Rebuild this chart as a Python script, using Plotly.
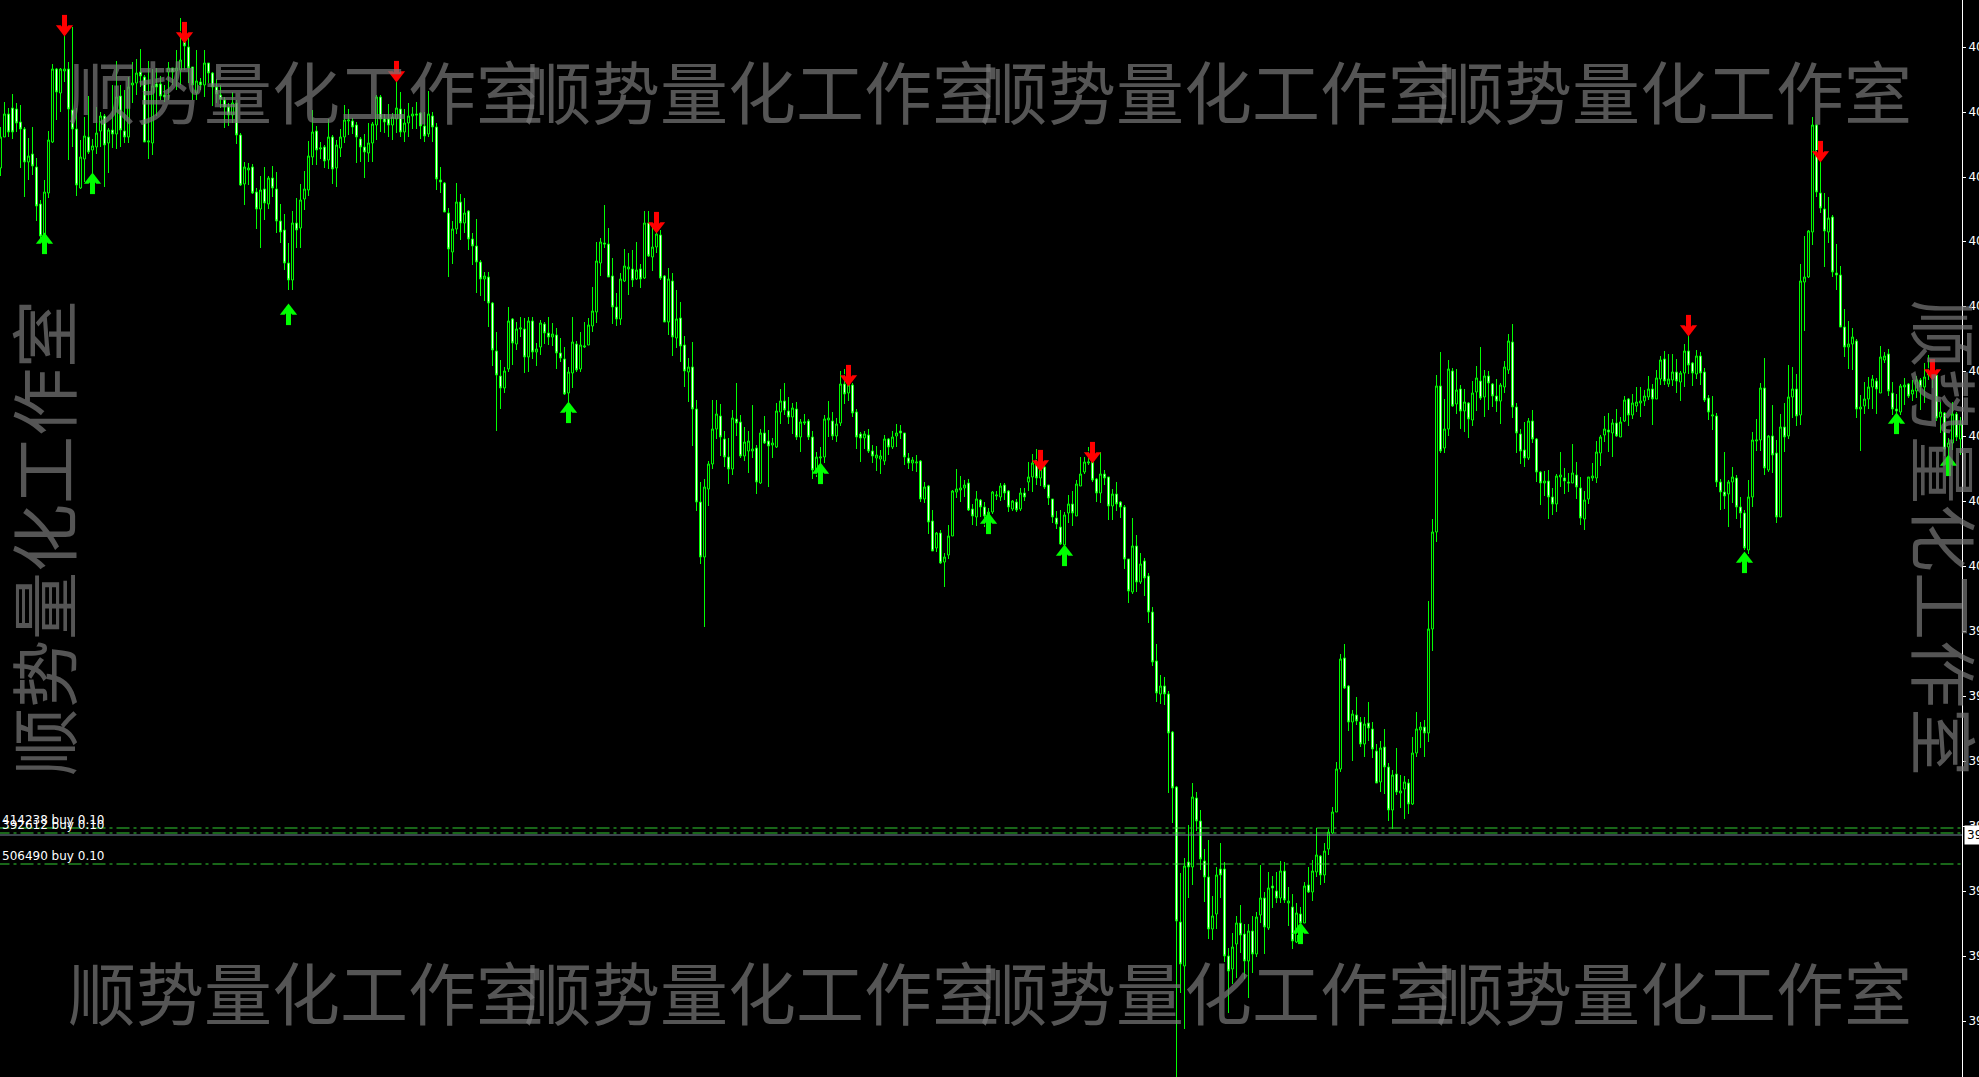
import plotly.graph_objects as go

highs = [
4047.3,4049.8,4049.2,4050.6,4049.7,4049.5,4047.3,4046.2,4047.3,4044.2,
4040.0,4042.0,4046.9,4053.6,4053.2,4053.2,4056.5,4053.8,4057.3,4049.2,
4046.0,4048.3,4050.4,4046.1,4049.3,4048.8,4048.6,4047.2,4051.5,4053.9,
4051.5,4051.0,4052.3,4053.8,4054.1,4055.1,4052.5,4053.9,4053.1,4053.2,
4052.4,4051.5,4053.8,4053.2,4055.0,4058.2,4055.9,4056.2,4053.3,4055.0,
4052.2,4055.0,4053.7,4052.8,4052.1,4051.5,4050.3,4049.7,4050.8,4050.0,
4046.7,4043.8,4043.7,4043.6,4041.2,4042.4,4043.3,4042.4,4043.4,4042.8,
4039.6,4038.6,4035.7,4038.9,4040.2,4041.6,4042.9,4045.9,4049.0,4047.4,
4045.8,4045.5,4048.1,4046.5,4046.0,4047.1,4049.5,4049.1,4048.2,4047.8,
4046.3,4046.6,4047.7,4047.8,4050.5,4050.5,4048.6,4049.6,4048.7,4051.8,
4050.8,4049.1,4049.7,4049.3,4049.8,4048.8,4048.8,4050.9,4048.8,4047.7,
4043.3,4041.8,4039.2,4037.9,4041.7,4040.6,4040.2,4039.0,4036.7,4038.1,
4034.0,4032.8,4032.8,4029.8,4026.8,4024.0,4023.3,4029.3,4028.2,4027.8,
4028.3,4028.2,4028.3,4028.3,4025.7,4028.0,4027.8,4028.3,4027.7,4027.2,
4026.2,4025.3,4023.3,4028.3,4025.9,4026.8,4027.8,4028.2,4031.3,4035.8,
4036.2,4039.5,4037.2,4034.2,4030.7,4032.7,4035.1,4034.7,4035.0,4035.8,
4033.6,4038.9,4038.9,4037.3,4037.5,4037.0,4032.5,4033.2,4032.7,4031.0,
4029.8,4026.4,4024.2,4025.8,4020.0,4011.8,4012.1,4013.9,4020.0,4020.0,
4019.6,4016.9,4016.2,4019.0,4021.7,4018.5,4017.3,4016.9,4019.5,4015.5,
4017.1,4018.4,4017.0,4016.2,4019.7,4021.1,4021.7,4020.3,4019.7,4019.8,
4018.1,4018.6,4018.1,4016.9,4014.8,4015.3,4018.5,4019.9,4018.8,4018.2,
4022.9,4023.1,4023.0,4021.7,4019.1,4016.8,4016.9,4017.1,4015.5,4015.4,
4015.0,4016.5,4016.2,4016.9,4017.6,4017.5,4016.7,4014.7,4014.3,4014.5,
4014.0,4011.8,4011.5,4009.0,4006.8,4007.0,4004.7,4007.5,4011.0,4013.1,
4012.4,4012.0,4012.1,4009.6,4010.9,4010.1,4009.8,4009.2,4010.9,4010.9,
4011.7,4011.7,4011.0,4010.0,4010.1,4011.2,4011.2,4013.8,4014.6,4015.1,
4014.7,4013.8,4011.5,4010.1,4008.9,4009.0,4008.8,4010.5,4010.9,4012.0,
4014.3,4014.3,4015.3,4014.8,4012.2,4014.8,4013.0,4012.3,4011.1,4011.8,
4009.9,4009.5,4004.1,4008.2,4006.5,4004.7,4004.2,4002.7,3999.3,3995.6,
3992.5,3992.3,3990.9,3986.9,3981.4,3972.7,3974.2,3977.5,3981.7,3980.8,
3979.0,3975.1,3976.0,3970.4,3973.3,3975.7,3973.8,3965.2,3966.7,3968.4,
3969.5,3967.6,3967.6,3968.4,3968.8,3973.5,3970.8,3972.8,3972.4,3972.8,
3973.9,3973.8,3971.3,3970.6,3969.7,3969.3,3971.8,3973.3,3974.0,3977.2,
3974.5,3975.7,3977.1,3979.3,3983.8,3994.6,3995.6,3991.5,3989.0,3990.3,
3988.3,3988.3,3989.8,3987.8,3985.6,3985.9,3987.1,3983.7,3983.0,3985.2,
3982.5,3982.4,3982.1,3986.3,3988.8,3987.8,3988.0,3999.9,4008.1,4022.5,
4024.8,4020.1,4024.0,4023.2,4023.1,4021.5,4021.1,4019.8,4021.9,4023.4,
4025.3,4023.0,4022.9,4021.7,4022.1,4021.7,4023.9,4026.6,4027.6,4019.7,
4017.1,4017.8,4018.2,4019.0,4016.2,4012.9,4012.9,4013.0,4011.2,4012.6,
4014.8,4013.2,4012.7,4015.6,4013.8,4012.3,4010.9,4012.3,4013.7,4015.9,
4016.5,4018.4,4018.7,4018.1,4019.1,4018.3,4020.4,4020.2,4020.6,4021.3,
4021.3,4021.0,4022.4,4021.6,4023.0,4024.4,4024.9,4024.6,4024.6,4024.1,
4022.9,4025.6,4026.4,4023.8,4025.0,4024.8,4023.2,4020.5,4020.4,4018.7,
4012.1,4014.8,4012.0,4013.3,4012.5,4010.3,4009.0,4012.0,4016.8,4018.1,
4021.7,4024.2,4016.5,4019.5,4016.0,4018.6,4019.7,4023.5,4023.3,4022.6,
4033.6,4036.4,4037.0,4048.3,4047.6,4044.0,4040.7,4040.3,4038.5,4035.6,
4033.4,4029.1,4027.9,4027.2,4026.1,4020.5,4021.8,4022.3,4022.5,4022.2,
4025.4,4024.8,4025.1,4021.8,4020.6,4021.6,4022.2,4021.7,4022.0,4022.4,
4022.2,4023.7,4024.5,4023.7,4022.7,4019.8,4018.8,4016.2,4019.8,4018.8,4018.3]

lows = [
4042.4,4046.3,4046.3,4046.1,4046.8,4043.2,4040.3,4042.0,4042.5,4037.9,
4036.0,4036.0,4040.2,4045.7,4048.0,4048.8,4051.8,4044.0,4045.3,4040.4,
4041.1,4041.8,4044.6,4042.7,4044.6,4045.3,4041.3,4042.7,4045.2,4045.1,
4045.3,4045.7,4045.7,4049.7,4050.5,4051.3,4045.8,4044.1,4044.5,4048.4,
4050.0,4049.8,4050.0,4051.5,4051.0,4051.5,4053.0,4051.7,4050.0,4050.0,
4051.0,4050.3,4051.7,4049.4,4049.7,4049.2,4047.2,4047.4,4047.7,4045.6,
4041.4,4039.5,4041.5,4040.6,4037.1,4035.2,4038.0,4039.1,4040.3,4036.7,
4035.7,4033.0,4031.0,4031.0,4035.2,4035.2,4039.0,4040.4,4043.5,4043.5,
4044.1,4043.2,4043.1,4041.6,4041.3,4044.3,4045.7,4046.5,4046.6,4043.7,
4043.8,4042.2,4043.8,4043.8,4046.0,4046.8,4046.7,4046.3,4046.0,4046.7,
4046.3,4045.8,4046.3,4047.1,4047.1,4046.1,4045.8,4046.3,4045.8,4041.0,
4040.7,4038.8,4032.3,4033.6,4036.6,4036.0,4036.7,4035.0,4033.5,4030.7,
4030.4,4029.9,4027.3,4023.4,4016.9,4019.1,4020.7,4022.8,4023.5,4025.0,
4026.3,4022.7,4022.8,4024.1,4023.4,4024.5,4025.6,4025.5,4025.4,4023.1,
4023.8,4020.5,4019.8,4021.2,4022.8,4022.8,4025.2,4025.5,4026.8,4027.7,
4032.4,4035.2,4032.3,4027.6,4027.4,4027.5,4031.8,4030.5,4031.3,4032.0,
4031.2,4032.1,4034.3,4032.9,4034.7,4032.0,4027.8,4026.5,4024.4,4025.2,
4023.8,4021.3,4019.8,4015.4,4008.9,4003.6,3997.3,4009.4,4013.1,4016.1,
4014.4,4013.3,4011.6,4012.5,4016.4,4014.2,4013.9,4012.7,4014.2,4010.6,
4011.6,4015.6,4011.3,4014.2,4015.2,4017.6,4018.5,4017.6,4016.6,4016.0,
4014.8,4017.5,4016.0,4012.1,4012.3,4013.7,4013.7,4016.3,4016.0,4015.8,
4017.4,4019.6,4019.9,4018.3,4015.1,4013.8,4015.1,4014.7,4013.7,4012.9,
4012.6,4013.5,4014.5,4015.1,4015.3,4016.1,4013.5,4013.1,4012.9,4012.8,
4009.8,4009.7,4006.6,4004.9,4004.8,4003.6,4001.3,4004.1,4006.4,4010.2,
4009.8,4010.3,4008.9,4007.5,4007.4,4008.3,4007.3,4008.0,4008.6,4010.0,
4009.9,4010.0,4008.8,4008.9,4008.8,4008.9,4009.9,4010.9,4010.8,4011.5,
4011.4,4011.1,4009.5,4007.7,4007.1,4005.5,4005.4,4007.7,4007.4,4008.4,
4011.4,4012.6,4013.5,4011.8,4009.8,4009.7,4011.5,4008.0,4008.0,4008.9,
4008.2,4003.1,3999.7,4000.6,4000.8,4001.6,4000.4,3997.7,3993.4,3989.8,
3989.6,3989.5,3980.7,3977.7,3951.0,3960.7,3957.1,3970.2,3971.5,3976.9,
3973.0,3969.8,3966.1,3966.0,3967.1,3970.2,3963.8,3958.7,3961.6,3962.2,
3964.7,3962.1,3960.2,3962.7,3964.3,3967.7,3964.6,3967.0,3969.2,3969.7,
3969.7,3969.7,3967.4,3965.1,3965.7,3967.7,3967.7,3970.7,3969.9,3972.3,
3971.5,3971.7,3974.5,3976.6,3978.8,3982.8,3991.1,3986.9,3983.9,3987.5,
3985.3,3984.3,3985.9,3984.2,3981.7,3980.8,3980.6,3977.9,3977.1,3980.5,
3979.2,3978.1,3978.6,3979.5,3984.3,3985.2,3984.3,3985.8,3994.9,4005.8,
4014.7,4014.7,4016.4,4019.3,4018.6,4017.1,4016.8,4016.2,4017.4,4018.9,
4020.0,4018.3,4019.0,4019.3,4018.8,4017.6,4020.7,4022.6,4018.2,4014.7,
4013.6,4013.3,4014.0,4015.7,4011.8,4009.5,4010.4,4008.1,4008.5,4008.8,
4011.3,4010.6,4010.8,4011.7,4010.1,4007.5,4007.0,4009.6,4011.9,4011.7,
4013.4,4015.8,4014.8,4014.3,4016.3,4016.3,4017.8,4017.4,4018.1,4018.8,
4018.3,4019.4,4020.0,4017.5,4020.1,4021.5,4021.5,4021.3,4021.4,4020.7,
4019.9,4021.3,4022.6,4021.4,4022.1,4021.5,4019.8,4018.0,4017.0,4011.3,
4009.0,4009.1,4007.3,4009.7,4008.1,4007.2,4005.0,4004.6,4009.3,4014.9,
4014.9,4012.5,4012.8,4012.7,4007.7,4008.3,4014.8,4016.1,4018.2,4017.4,
4017.5,4026.9,4032.2,4035.5,4040.3,4038.7,4033.3,4035.7,4032.3,4031.0,
4027.3,4024.3,4023.1,4023.0,4018.2,4014.9,4018.6,4019.1,4019.1,4018.6,
4020.7,4023.7,4020.4,4018.5,4018.5,4018.5,4019.5,4020.2,4019.9,4020.2,
4019.0,4019.7,4022.0,4021.2,4017.9,4016.7,4014.4,4014.2,4015.0,4015.9,4014.5]

opens = [
4043.2,4046.3,4048.6,4049.2,4049.1,4047.8,4047.1,4043.8,4044.6,4043.3,
4039.6,4036.5,4040.7,4045.8,4053.1,4050.7,4052.9,4053.1,4049.0,4047.1,
4041.2,4044.1,4046.3,4045.0,4045.3,4046.9,4048.4,4045.7,4047.0,4046.6,
4050.4,4046.9,4046.3,4051.5,4051.7,4052.8,4052.3,4045.8,4045.7,4051.6,
4051.6,4050.5,4052.8,4053.2,4052.9,4053.0,4055.8,4055.3,4053.3,4050.7,
4051.8,4051.5,4053.7,4052.7,4051.3,4050.5,4050.0,4049.3,4048.5,4049.7,
4046.5,4041.6,4043.0,4043.3,4040.8,4039.1,4041.1,4039.6,4042.2,4041.1,
4037.9,4037.0,4033.7,4032.0,4037.7,4037.2,4040.1,4041.0,4044.3,4046.9,
4045.1,4045.3,4044.0,4046.3,4043.2,4045.2,4046.3,4047.9,4047.9,4047.5,
4046.1,4045.3,4044.7,4045.7,4047.5,4050.3,4048.1,4048.1,4047.5,4048.1,
4049.1,4046.8,4047.7,4048.4,4048.6,4048.7,4047.4,4046.6,4048.4,4047.3,
4042.0,4041.7,4038.7,4034.8,4037.1,4039.8,4037.7,4038.9,4036.1,4035.4,
4033.8,4032.1,4032.3,4029.7,4024.9,4022.4,4021.2,4023.1,4028.1,4025.6,
4027.1,4027.1,4024.3,4027.9,4024.8,4025.3,4027.6,4026.7,4026.3,4026.5,
4024.7,4024.1,4020.7,4022.7,4025.6,4023.1,4025.3,4025.5,4027.4,4028.8,
4033.7,4035.7,4035.6,4032.4,4029.3,4028.1,4031.9,4033.1,4033.1,4032.1,
4033.1,4032.2,4037.7,4034.3,4035.3,4036.5,4032.4,4027.8,4031.9,4026.2,
4028.2,4025.5,4022.8,4023.3,4019.1,4009.8,4004.3,4011.1,4013.6,4017.1,
4018.4,4016.1,4014.3,4013.1,4018.1,4017.8,4014.4,4014.9,4014.9,4015.2,
4011.7,4016.7,4015.9,4015.5,4015.3,4018.8,4019.9,4018.9,4018.3,4019.1,
4016.3,4017.7,4017.9,4016.3,4012.7,4014.2,4014.3,4018.0,4017.9,4016.4,
4017.7,4021.6,4020.7,4021.5,4018.8,4016.6,4016.2,4016.5,4014.9,4014.2,
4014.1,4013.9,4016.1,4015.3,4016.4,4016.9,4016.7,4014.2,4013.7,4013.7,
4013.9,4010.1,4011.4,4007.9,4005.2,4006.7,4003.8,4004.5,4006.4,4010.8,
4011.0,4011.2,4011.7,4009.1,4008.3,4010.0,4009.3,4008.3,4008.8,4010.4,
4010.3,4011.5,4010.9,4009.1,4009.8,4009.1,4010.7,4011.8,4012.3,4014.0,
4012.2,4013.3,4011.5,4010.1,4008.2,4007.3,4005.5,4008.7,4009.6,4008.4,
4011.4,4012.8,4013.7,4013.8,4012.1,4010.7,4012.6,4012.3,4009.4,4010.6,
4009.8,4009.3,4004.1,4000.8,4005.4,4001.8,4003.9,4002.4,3998.8,3993.9,
3990.6,3991.4,3990.6,3986.8,3981.3,3967.8,3963.4,3973.8,3973.3,3980.2,
3977.9,3973.9,3972.3,3967.1,3968.6,3973.1,3973.1,3964.4,3963.1,3965.6,
3967.7,3966.6,3963.9,3966.9,3964.6,3968.5,3970.2,3967.2,3971.4,3970.9,
3970.2,3972.9,3969.7,3969.3,3965.8,3968.6,3967.7,3971.5,3970.8,3972.8,
3974.4,3972.5,3975.1,3976.7,3978.8,3983.1,3994.2,3991.4,3987.8,3988.5,
3987.8,3985.6,3987.7,3987.1,3984.9,3981.8,3985.3,3983.3,3979.0,3982.6,
3980.7,3981.1,3981.7,3979.6,3984.7,3987.0,3987.3,3986.7,3997.1,4006.8,
4021.4,4015.2,4017.1,4022.9,4019.6,4021.1,4018.9,4019.7,4018.0,4020.8,
4021.9,4020.3,4022.4,4021.6,4020.4,4019.9,4021.3,4023.0,4025.8,4019.3,
4016.6,4015.0,4014.2,4017.9,4016.1,4012.8,4011.7,4011.9,4010.3,4009.6,
4012.3,4012.2,4011.8,4011.7,4012.5,4011.2,4008.1,4010.1,4012.2,4012.2,
4014.7,4016.5,4017.0,4016.7,4017.7,4016.3,4017.9,4020.1,4018.5,4019.4,
4019.7,4019.9,4020.3,4021.1,4020.1,4022.1,4024.1,4021.6,4022.0,4022.8,
4021.8,4022.7,4024.9,4023.7,4022.6,4024.4,4022.8,4020.2,4018.4,4018.4,
4011.8,4010.8,4010.6,4011.8,4012.2,4009.3,4008.7,4005.0,4010.3,4015.9,
4016.0,4021.2,4013.0,4016.4,4014.7,4008.3,4017.3,4016.4,4020.3,4021.1,
4018.5,4031.8,4032.3,4036.8,4047.5,4040.7,4039.1,4036.8,4038.3,4032.7,
4032.5,4027.3,4025.3,4025.6,4025.9,4019.1,4019.4,4020.1,4021.3,4021.9,
4020.7,4024.0,4024.6,4020.7,4019.1,4018.8,4021.3,4021.6,4020.6,4020.9,
4022.0,4021.3,4022.5,4022.7,4022.5,4018.3,4018.7,4015.3,4015.7,4018.6,4016.1]

closes = [
4046.3,4048.6,4046.8,4046.8,4047.7,4047.1,4043.8,4044.4,4043.4,4039.4,
4036.4,4040.8,4046.0,4053.1,4050.8,4053.1,4053.1,4049.1,4047.1,4041.5,
4044.3,4046.4,4044.8,4045.4,4046.7,4048.4,4045.5,4047.0,4046.6,4050.3,
4047.0,4046.3,4051.3,4051.7,4052.7,4052.4,4045.8,4045.9,4051.4,4051.3,
4050.4,4050.3,4053.2,4052.8,4053.2,4054.0,4055.4,4053.2,4051.5,4051.9,
4051.5,4053.7,4052.7,4051.3,4050.6,4050.1,4049.3,4048.5,4049.7,4046.5,
4041.5,4043.3,4043.2,4040.7,4039.1,4041.0,4039.7,4042.2,4041.2,4037.9,
4036.8,4033.7,4032.0,4037.7,4037.0,4040.0,4041.1,4044.4,4046.8,4045.0,
4045.2,4043.9,4046.3,4043.1,4045.5,4046.3,4048.0,4048.0,4047.3,4046.3,
4045.3,4044.8,4045.7,4047.6,4050.3,4048.1,4047.8,4047.5,4048.3,4049.2,
4046.8,4047.7,4048.4,4048.6,4048.5,4047.4,4046.4,4048.6,4047.3,4042.1,
4041.8,4038.8,4035.1,4037.1,4039.8,4037.7,4038.7,4036.1,4035.4,4033.8,
4032.1,4032.4,4029.7,4025.0,4022.5,4021.2,4022.9,4027.9,4025.7,4027.1,
4027.2,4024.3,4027.9,4024.8,4025.1,4027.7,4026.7,4026.3,4026.6,4024.7,
4024.2,4020.6,4022.8,4025.8,4023.0,4025.5,4025.4,4027.5,4028.9,4033.9,
4035.8,4035.6,4032.3,4029.3,4028.1,4032.1,4033.4,4033.3,4032.0,4033.0,
4032.1,4037.7,4034.4,4035.3,4036.6,4032.2,4027.8,4032.1,4026.3,4028.1,
4025.4,4022.9,4023.3,4019.1,4009.8,4004.3,4011.3,4013.6,4017.1,4018.6,
4016.3,4014.3,4013.1,4018.2,4017.7,4014.4,4015.8,4015.9,4015.1,4011.8,
4016.7,4015.7,4015.4,4015.7,4018.9,4019.9,4019.0,4018.3,4019.2,4016.3,
4017.8,4017.8,4016.3,4013.0,4014.3,4014.3,4018.1,4018.2,4016.4,4017.6,
4021.6,4020.6,4021.5,4018.7,4016.3,4016.2,4016.6,4014.9,4014.4,4014.5,
4014.4,4016.1,4015.3,4016.3,4016.7,4016.7,4014.3,4013.7,4014.0,4013.8,
4010.1,4011.3,4007.8,4004.9,4006.7,4003.7,4004.3,4006.4,4010.9,4011.1,
4011.2,4011.5,4009.0,4008.4,4010.1,4009.3,4008.4,4008.8,4010.8,4010.5,
4011.4,4010.7,4009.3,4009.9,4009.0,4010.7,4010.3,4012.3,4013.7,4012.2,
4013.8,4011.3,4010.2,4008.3,4007.6,4005.6,4008.5,4009.6,4008.7,4011.6,
4012.6,4013.8,4013.8,4012.0,4010.7,4012.6,4012.2,4009.4,4010.6,4009.6,
4009.3,4004.1,4000.9,4005.4,4001.8,4003.6,4002.2,3998.8,3993.8,3990.7,
3991.4,3990.6,3986.7,3981.2,3967.9,3963.6,3973.4,3973.3,3980.3,3977.9,
3974.1,3972.3,3967.1,3968.4,3972.5,3972.5,3964.4,3962.9,3965.3,3967.7,
3966.5,3963.9,3966.9,3964.6,3968.3,3970.2,3967.3,3971.2,3971.2,3970.2,
3972.9,3970.0,3969.9,3965.9,3968.7,3967.7,3971.4,3970.8,3972.9,3974.5,
3972.5,3974.9,3976.8,3978.8,3983.1,3994.1,3991.2,3987.8,3988.6,3987.9,
3985.6,3987.6,3987.2,3985.1,3981.7,3985.2,3983.3,3979.0,3982.5,3980.8,
3980.9,3981.8,3979.6,3984.7,3987.1,3987.3,3986.7,3997.1,4006.8,4021.4,
4014.9,4017.1,4023.1,4019.4,4021.0,4018.9,4019.8,4018.1,4020.7,4022.2,
4020.2,4022.4,4021.7,4020.4,4019.9,4021.5,4023.3,4025.9,4019.3,4016.7,
4014.9,4014.2,4017.9,4016.1,4012.8,4011.7,4011.9,4010.3,4009.6,4012.4,
4012.5,4011.9,4011.7,4012.7,4011.3,4008.2,4010.0,4012.3,4012.4,4014.8,
4016.3,4017.1,4016.8,4017.7,4016.4,4017.8,4020.0,4018.5,4019.7,4019.8,
4019.9,4020.4,4021.1,4020.1,4022.2,4024.0,4021.9,4022.1,4022.8,4021.9,
4022.7,4024.9,4023.5,4022.7,4024.4,4022.7,4020.0,4018.8,4018.5,4011.8,
4010.8,4010.4,4011.8,4012.3,4009.3,4008.7,4005.2,4010.3,4016.0,4016.0,
4021.2,4013.2,4016.4,4014.5,4008.3,4017.3,4016.3,4020.3,4021.1,4018.4,
4031.9,4032.3,4036.9,4047.5,4040.8,4039.2,4036.9,4038.2,4032.8,4032.5,
4027.3,4025.3,4025.6,4026.3,4019.1,4019.3,4020.1,4021.3,4022.1,4021.1,
4024.3,4024.4,4020.9,4019.1,4018.9,4021.4,4021.5,4020.4,4021.0,4022.0,
4021.3,4022.3,4022.8,4022.3,4018.2,4018.8,4015.1,4015.7,4018.6,4016.3,4017.6]

up_arrow_bars = [11, 23, 72, 142, 205, 247, 266, 325, 436, 474, 487]
up_arrow_prices = [4035.8, 4041.8, 4028.7, 4018.9, 4012.8, 4007.8, 4004.6, 3966.8, 4003.9, 4017.8, 4013.6]
down_arrow_bars = [16, 46, 99, 164, 212, 260, 273, 422, 455, 483]
down_arrow_prices = [4057.3, 4056.6, 4052.7, 4037.6, 4022.3, 4013.8, 4014.6, 4027.3, 4044.7, 4022.9]

order_prices = [3977.2, 3976.7, 3973.6]
order_labels = ["414238 buy 0.10", "392612 buy 0.10", "506490 buy 0.10"]
bid_price = 3976.5
tick_values = [4055.3, 4048.8, 4042.3, 4035.9, 4029.4, 4022.9, 4016.4, 4009.9, 4003.4, 3996.9, 3990.4, 3983.9, 3977.4, 3970.9, 3964.4, 3957.9]
watermark = "顺势量化工作室"

bars = list(range(len(highs)))
fig = go.Figure()
fig.add_trace(go.Candlestick(
    x=bars, open=opens, high=highs, low=lows, close=closes,
    increasing=dict(line=dict(color="#00ff00", width=1), fillcolor="#000000"),
    decreasing=dict(line=dict(color="#00ff00", width=1), fillcolor="#ffffff"),
    whiskerwidth=0, showlegend=False, hoverinfo="skip"))

for p in order_prices:
    fig.add_trace(go.Scatter(x=[bars[0] - 1, bars[-1] + 1], y=[p, p], mode="lines", showlegend=False, hoverinfo="skip",
                             line=dict(color="#32cd32", width=1, dash="13px,4px,3px,4px")))
fig.add_trace(go.Scatter(x=[bars[0] - 1, bars[-1] + 1], y=[bid_price, bid_price], mode="lines", showlegend=False,
                         hoverinfo="skip", line=dict(color="#778899", width=1)))


def add_arrows(xs, prices, color, sign):
    """sign=+1 points up, -1 points down. Each arrow = head, notch and shaft markers around its price."""
    head = "triangle-up" if sign > 0 else "triangle-down"
    unit = 0.1  # price per screen pixel
    fig.add_trace(go.Scatter(x=xs, y=[p + sign * 2 * unit for p in prices], mode="markers", showlegend=False,
                             hoverinfo="skip", marker=dict(symbol=head, size=15, color=color, line=dict(width=0))))
    fig.add_trace(go.Scatter(x=xs, y=[p - sign * 1 * unit for p in prices], mode="markers", showlegend=False,
                             hoverinfo="skip", marker=dict(symbol=head, size=8, color="#000000", line=dict(width=0))))
    fig.add_trace(go.Scatter(x=xs, y=[p - sign * 3 * unit for p in prices], mode="markers", showlegend=False,
                             hoverinfo="skip", marker=dict(symbol="line-ns", size=13, line=dict(width=5, color=color))))


add_arrows(up_arrow_bars, up_arrow_prices, "#00ff00", 1)
add_arrows(down_arrow_bars, down_arrow_prices, "#ff0000", -1)

W, H = 1979, 1077
PW = 1962
annos = []
wm_font = dict(family="Noto Sans CJK SC", size=68, color="rgba(121,121,121,0.7)")
for cx in (306, 762, 1218, 1674):
    for cy in (89, 990):
        annos.append(dict(text=watermark, x=cx / PW, y=1 - cy / H, xref="paper", yref="paper",
                          xanchor="center", yanchor="middle", showarrow=False, font=wm_font))
annos.append(dict(text=watermark, x=42 / PW, y=1 - 538 / H, xref="paper", yref="paper", textangle=-90,
                  xanchor="center", yanchor="middle", showarrow=False, font=wm_font))
annos.append(dict(text=watermark, x=1946 / PW, y=1 - 538 / H, xref="paper", yref="paper", textangle=90,
                  xanchor="center", yanchor="middle", showarrow=False, font=wm_font))
for lab, p in zip(order_labels, order_prices):
    annos.append(dict(text=lab, x=105 / PW, y=p, xref="paper", yref="y", xanchor="right", yanchor="bottom",
                      showarrow=False, yshift=0, borderpad=0, font=dict(family="DejaVu Sans", size=12, color="#ffffff")))
annos.append(dict(text=f"{bid_price:.2f}", x=1964 / PW, y=bid_price, xref="paper", yref="y", xanchor="left",
                  yanchor="middle", showarrow=False, bgcolor="#ffffff", borderpad=2,
                  font=dict(family="DejaVu Sans", size=12, color="#000000")))

fig.update_layout(
    width=W, height=H, margin=dict(l=0, r=W - PW, t=0, b=0, autoexpand=False), autosize=False,
    paper_bgcolor="#000000", plot_bgcolor="#000000", showlegend=False, annotations=annos,
    xaxis=dict(range=[-0.125, PW / 4 - 0.125], visible=False, rangeslider=dict(visible=False), fixedrange=True),
    yaxis=dict(range=[3952.3, 4060.0], side="right", showgrid=False, zeroline=False, fixedrange=True,
               tickvals=tick_values, ticktext=[f"{v:.2f}" for v in tick_values],
               ticks="outside", ticklen=3, tickcolor="#ffffff", showline=True, linecolor="#ffffff", linewidth=1,
               tickfont=dict(family="DejaVu Sans", size=12, color="#ffffff")),
)
fig.write_html("out.html", config=dict(displayModeBar=False),
               post_script="document.body.style.margin='0';document.body.style.background='#000';")
